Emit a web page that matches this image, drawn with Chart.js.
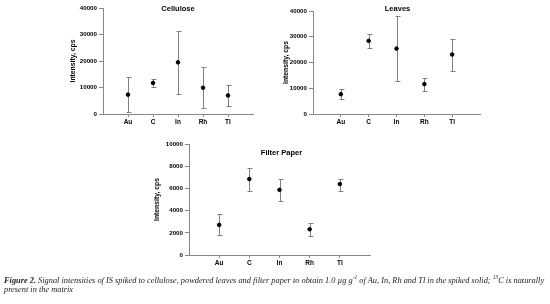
<!DOCTYPE html>
<html>
<head>
<meta charset="utf-8">
<script src="https://cdn.jsdelivr.net/npm/chart.js@4.4.0/dist/chart.umd.min.js"></script>
<style>
    body { margin: 0; background: #fff; }
    #wrap { position: relative; width: 550px; height: 304px; overflow: hidden; }
    canvas { position: absolute; }
    #caption { position: absolute; left: 4px; top: 276px; font-family: "Liberation Serif", serif; font-style: italic;
        font-size: 8.35px; line-height: 9px; white-space: nowrap; color: #222; }
    #caption b { font-weight: bold; }
    #caption sup { font-size: 5.5px; line-height: 0; }
</style>
</head>
<body>
<div id="wrap">
    <canvas id="cellChart" width="200" height="132" style="left:60px;top:0px"></canvas>
    <canvas id="leavesChart" width="220" height="132" style="left:270px;top:0px"></canvas>
    <canvas id="paperChart" width="235" height="141" style="left:146px;top:134px"></canvas>
    <div id="caption"><b>Figure 2.</b> Signal intensities of IS spiked to cellulose, powdered leaves and filter paper to obtain 1.0 µg g<sup>-1</sup> of Au, In, Rh and Tl in the spiked solid; <sup>13</sup>C is naturally<br>present in the matrix</div>
</div>
<script>
var elements = ['Au', 'C', 'In', 'Rh', 'Tl'];

// Cellulose
var celluloseMean = [7300, 11700, 19500, 9900, 7000];
var celluloseLow = [800, 10100, 7500, 2100, 3000];
var celluloseHigh = [13800, 13300, 31300, 17800, 11100];

// Leaves
var leavesMean = [7700, 28400, 25400, 11600, 23100];
var leavesLow = [5800, 25700, 13000, 9100, 16700];
var leavesHigh = [9600, 31000, 38000, 13800, 29000];

// Filter paper
var paperMean = [2710, 6840, 5870, 2320, 6390];
var paperLow = [1780, 5810, 4880, 1720, 5780];
var paperHigh = [3670, 7830, 6840, 2860, 6870];

var bigAxisTicks = [0, 10000, 20000, 30000, 40000];
var paperAxisTicks = [0, 2000, 4000, 6000, 8000, 10000];

var FONT = '"Liberation Sans", Arial, sans-serif';

var errorBars = {
    id: 'errorBars',
    beforeDatasetsDraw: function (chart, args, opts) {
        var ctx = chart.ctx;
        var xs = chart.scales.x, ys = chart.scales.y;
        ctx.save();
        ctx.strokeStyle = '#808080';
        ctx.lineWidth = 1;
        opts.low.forEach(function (lo, i) {
            var x = Math.round(xs.getPixelForValue(i + 1)) + 0.5;
            var yl = Math.round(ys.getPixelForValue(lo)) + 0.5;
            var yh = Math.round(ys.getPixelForValue(opts.high[i])) + 0.5;
            ctx.beginPath();
            ctx.moveTo(x, yl); ctx.lineTo(x, yh);
            ctx.moveTo(x - 2, yl); ctx.lineTo(x + 3, yl);
            ctx.moveTo(x - 2, yh); ctx.lineTo(x + 3, yh);
            ctx.stroke();
        });
        ctx.restore();
    }
};

var innerTitle = {
    id: 'innerTitle',
    afterDraw: function (chart, args, opts) {
        var ctx = chart.ctx, area = chart.chartArea;
        ctx.save();
        ctx.font = 'bold 7.5px ' + FONT;
        ctx.fillStyle = '#000';
        ctx.textAlign = 'center';
        ctx.textBaseline = 'middle';
        ctx.fillText(opts.text, (area.left + area.right) / 2 + opts.dx, area.top + opts.dy);
        ctx.restore();
    }
};

function makeChart(id, title, titlePos, mean, low, high, yTicks, pad) {
    var ctx = document.getElementById(id).getContext('2d');
    return new Chart(ctx, {
        type: 'scatter',
        data: {
            datasets: [{
                data: mean.map(function (v, i) { return { x: i + 1, y: v }; }),
                backgroundColor: '#000',
                borderColor: '#000',
                pointRadius: 1.8,
                pointHoverRadius: 1.8,
                showLine: false
            }]
        },
        options: {
            responsive: false,
            animation: false,
            layout: { padding: pad },
            scales: {
                x: {
                    type: 'linear',
                    min: 0,
                    max: elements.length + 1,
                    afterBuildTicks: function (s) {
                        s.ticks = elements.map(function (e, i) { return { value: i + 1 }; });
                    },
                    afterFit: function (s) { s.height = pad.xh; },
                    ticks: {
                        autoSkip: false,
                        maxRotation: 0,
                        padding: 1,
                        color: '#000',
                        font: { family: FONT, size: 6.5, weight: 'bold' },
                        callback: function (v) { return elements[v - 1]; }
                    },
                    grid: { drawOnChartArea: false, tickLength: 3, color: '#888' },
                    border: { color: '#888' }
                },
                y: {
                    min: yTicks[0],
                    max: yTicks[yTicks.length - 1],
                    afterBuildTicks: function (s) {
                        s.ticks = yTicks.map(function (v) { return { value: v }; });
                    },
                    afterFit: function (s) { s.width = pad.yw; },
                    ticks: {
                        padding: 2,
                        color: '#000',
                        font: { family: FONT, size: 6.2, weight: 'bold' },
                        callback: function (v) { return String(v); }
                    },
                    grid: { drawOnChartArea: false, tickLength: 4, color: '#888' },
                    border: { color: '#888' },
                    title: {
                        display: true,
                        text: 'Intensity, cps',
                        color: '#000',
                        padding: { top: pad.tp, bottom: 0 },
                        font: { family: FONT, size: 6.8, weight: 'bold' }
                    }
                }
            },
            plugins: {
                legend: { display: false },
                tooltip: { enabled: false },
                errorBars: { low: low, high: high },
                innerTitle: { text: title, dx: titlePos[0], dy: titlePos[1] }
            }
        },
        plugins: [errorBars, innerTitle]
    });
}

makeChart('cellChart', 'Cellulose', [0, 1], celluloseMean, celluloseLow, celluloseHigh, bigAxisTicks,
    { top: 8, right: 7, left: 0, bottom: 0, xh: 18, yw: 43, tp: 9 });
makeChart('leavesChart', 'Leaves', [1, -2], leavesMean, leavesLow, leavesHigh, bigAxisTicks,
    { top: 11, right: 10, left: 0, bottom: 0, xh: 18, yw: 43, tp: 12 });
makeChart('paperChart', 'Filter Paper', [2, 9], paperMean, paperLow, paperHigh, paperAxisTicks,
    { top: 10, right: 11, left: 0, bottom: 0, xh: 20, yw: 43, tp: 7 });
</script>
</body>
</html>
